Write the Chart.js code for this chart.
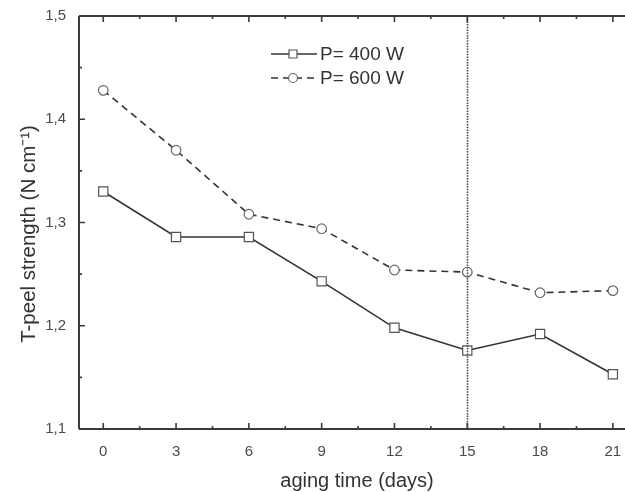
<!DOCTYPE html>
<html>
<head>
<meta charset="utf-8">
<script src="https://cdn.jsdelivr.net/npm/chart.js@4"></script>
<style>
html,body{margin:0;padding:0;background:#fff;overflow:hidden;}
#wrap{width:625px;height:492px;}
</style>
</head>
<body>
<div id="wrap"><canvas id="c" width="625" height="492"></canvas></div>
<script>
const days = [0, 3, 6, 9, 12, 15, 18, 21];
const p400 = [1.330, 1.286, 1.286, 1.243, 1.198, 1.176, 1.192, 1.153];
const p600 = [1.428, 1.370, 1.308, 1.294, 1.254, 1.252, 1.232, 1.234];
const seriesLabels = ['P= 400 W', 'P= 600 W'];
const xTicks = [0, 3, 6, 9, 12, 15, 18, 21];
const xMinorTicks = [1.5, 4.5, 7.5, 10.5, 13.5, 16.5, 19.5];
const yTicks = [1.1, 1.2, 1.3, 1.4, 1.5];
const yMinorTicks = [1.15, 1.25, 1.35, 1.45];
const markerDay = 15;
const xTitle = 'aging time (days)';
const yTitle = 'T-peel strength (N cm⁻¹)';

const ink = '#3a3a3a';
const textColor = '#4a4a4a';
const FONT = '"Liberation Sans", Arial, sans-serif';

const framePlugin = {
  id: 'frame',
  afterDatasetsDraw(chart) {
    const ctx = chart.ctx, a = chart.chartArea;
    const xs = chart.scales.x, ys = chart.scales.y;
    ctx.save();
    ctx.strokeStyle = '#444';
    ctx.lineWidth = 1.6;
    ctx.setLineDash([1.5, 1.2]);
    const vx = Math.round(xs.getPixelForValue(markerDay)) + 0.5;
    ctx.beginPath(); ctx.moveTo(vx, a.top); ctx.lineTo(vx, a.bottom); ctx.stroke();
    ctx.setLineDash([]);
    ctx.strokeStyle = ink;
    ctx.lineWidth = 2;
    ctx.beginPath();
    ctx.moveTo(a.left, a.top); ctx.lineTo(a.right + 2, a.top);
    ctx.moveTo(a.left, a.top); ctx.lineTo(a.left, a.bottom);
    ctx.moveTo(a.left, a.bottom); ctx.lineTo(a.right + 2, a.bottom);
    ctx.stroke();
    ctx.lineWidth = 1.6;
    ctx.beginPath();
    xTicks.forEach(v => {
      const px = xs.getPixelForValue(v);
      ctx.moveTo(px, a.bottom); ctx.lineTo(px, a.bottom - 6);
      ctx.moveTo(px, a.top); ctx.lineTo(px, a.top + 6);
    });
    xMinorTicks.forEach(v => {
      const px = xs.getPixelForValue(v);
      ctx.moveTo(px, a.bottom); ctx.lineTo(px, a.bottom - 3);
      ctx.moveTo(px, a.top); ctx.lineTo(px, a.top + 3);
    });
    yTicks.forEach(v => {
      const py = ys.getPixelForValue(v);
      ctx.moveTo(a.left, py); ctx.lineTo(a.left + 6, py);
    });
    yMinorTicks.forEach(v => {
      const py = ys.getPixelForValue(v);
      ctx.moveTo(a.left, py); ctx.lineTo(a.left + 3, py);
    });
    ctx.stroke();
    // axis titles
    ctx.fillStyle = '#333';
    ctx.textAlign = 'center';
    ctx.textBaseline = 'middle';
    ctx.font = '20px ' + FONT;
    ctx.fillText(xTitle, 357, 481);
    ctx.save();
    ctx.translate(29, 234);
    ctx.rotate(-Math.PI / 2);
    ctx.font = '20.5px ' + FONT;
    ctx.fillText(yTitle, 0, 0);
    ctx.restore();
    // legend
    const lx0 = 271, lx1 = 317, mx = 293, ty = [54, 78], tx = 320;
    chart.data.datasets.forEach((ds, i) => {
      const y = ty[i];
      ctx.strokeStyle = ds.borderColor;
      ctx.lineWidth = ds.borderWidth;
      ctx.setLineDash(ds.borderDash || []);
      ctx.beginPath(); ctx.moveTo(lx0, y); ctx.lineTo(lx1, y); ctx.stroke();
      ctx.setLineDash([]);
      ctx.fillStyle = '#fff';
      ctx.strokeStyle = ds.pointBorderColor;
      ctx.lineWidth = 1.2;
      ctx.beginPath();
      if (ds.pointStyle === 'rect') { ctx.rect(mx - 4, y - 4, 8, 8); }
      else { ctx.arc(mx, y, 4.5, 0, Math.PI * 2); }
      ctx.fill(); ctx.stroke();
      ctx.fillStyle = '#333';
      ctx.font = '19px ' + FONT;
      ctx.textBaseline = 'middle';
      ctx.textAlign = 'left';
      ctx.fillText(ds.label, tx, y + 1);
    });
    ctx.restore();
  }
};

new Chart(document.getElementById('c'), {
  type: 'line',
  data: {
    datasets: [
      {
        label: seriesLabels[0],
        data: days.map((d, i) => ({x: d, y: p400[i]})),
        borderColor: '#333', borderWidth: 1.6,
        pointStyle: 'rect', pointRadius: 6.5,
        pointBackgroundColor: '#fff', pointBorderColor: '#555', pointBorderWidth: 1.2,
        tension: 0
      },
      {
        label: seriesLabels[1],
        data: days.map((d, i) => ({x: d, y: p600[i]})),
        borderColor: '#333', borderWidth: 1.6, borderDash: [7, 5],
        pointStyle: 'circle', pointRadius: 4.8,
        pointBackgroundColor: '#fff', pointBorderColor: '#666', pointBorderWidth: 1.2,
        tension: 0
      }
    ]
  },
  options: {
    responsive: false,
    animation: false,
    layout: {autoPadding: false, padding: {top: 16, right: 0, left: 0, bottom: 0}},
    plugins: {legend: {display: false}, tooltip: {enabled: false}},
    scales: {
      x: {
        type: 'linear', min: -1, max: 21.5,
        grid: {display: false},
        border: {display: false},
        afterBuildTicks: s => { s.ticks = xTicks.map(v => ({value: v})); },
        afterFit: s => { s.height = 63; s.paddingLeft = 0; s.paddingRight = 0; },
        ticks: {
          color: textColor, padding: 6,
          font: {size: 15, family: FONT},
          maxRotation: 0, callback: v => String(v)
        },
        title: {display: false}
      },
      y: {
        type: 'linear', min: 1.1, max: 1.5,
        grid: {display: false},
        border: {display: false},
        afterBuildTicks: s => { s.ticks = yTicks.map(v => ({value: v})); },
        afterFit: s => { s.width = 79; s.paddingTop = 0; s.paddingBottom = 0; },
        ticks: {
          color: textColor, padding: 5,
          font: {size: 15, family: FONT},
          callback: v => v.toFixed(1).replace('.', ',')
        },
        title: {display: false}
      }
    }
  },
  plugins: [framePlugin]
});
</script>
</body>
</html>
